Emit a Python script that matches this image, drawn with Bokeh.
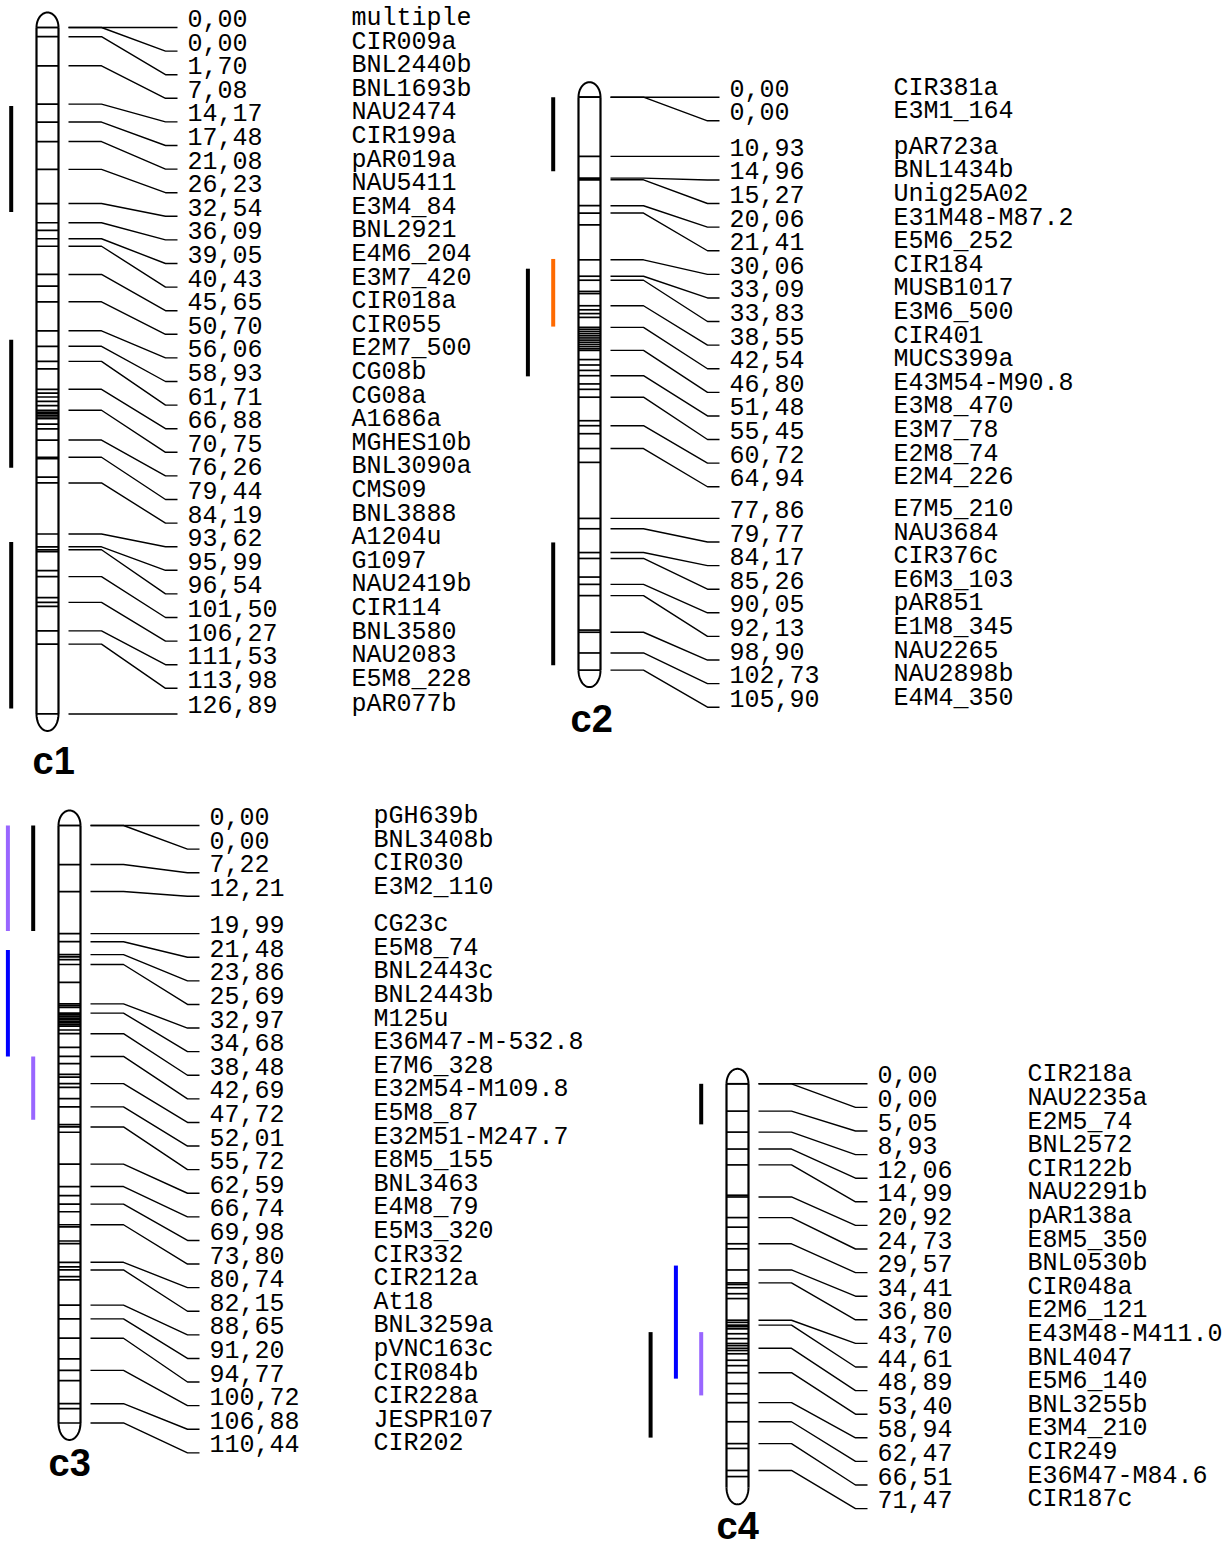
import numpy as np
from bokeh.plotting import figure
from bokeh.models import Range1d
from bokeh.embed import file_html
from bokeh.resources import INLINE
from bokeh.core.properties import value

# ---------------- DATA ----------------
c1_names = ["multiple", "CIR009a", "BNL2440b", "BNL1693b", "NAU2474", "CIR199a", "pAR019a",
            "NAU5411", "E3M4_84", "BNL2921", "E4M6_204", "E3M7_420", "CIR018a", "CIR055",
            "E2M7_500", "CG08b", "CG08a", "A1686a", "MGHES10b", "BNL3090a", "CMS09", "BNL3888",
            "A1204u", "G1097", "NAU2419b", "CIR114", "BNL3580", "NAU2083", "E5M8_228", "pAR077b"]
c1_pos = [0.00, 0.00, 1.70, 7.08, 14.17, 17.48, 21.08, 26.23, 32.54, 36.09, 39.05, 40.43,
          45.65, 50.70, 56.06, 58.93, 61.71, 66.88, 70.75, 76.26, 79.44, 84.19, 93.62, 95.99,
          96.54, 101.50, 106.27, 111.53, 113.98, 126.89]
c1_extra = [37.5, 47.8, 63.1, 67.6, 68.3, 69.1, 69.9, 71.1, 71.4, 71.7, 72.0, 72.3, 73.3,
            74.2, 79.7, 83.1, 96.9, 100.4, 105.4, 107.0]
c1_length = 126.89
c1_qtl_start = [14.5, 57.7, 95.1]
c1_qtl_end = [34.1, 81.4, 125.9]
c1_qtl_color = ["black", "black", "black"]
c1_qtl_lane = [1, 1, 1]

c2_names = ["CIR381a", "E3M1_164", "pAR723a", "BNL1434b", "Unig25A02", "E31M48-M87.2",
            "E5M6_252", "CIR184", "MUSB1017", "E3M6_500", "CIR401", "MUCS399a", "E43M54-M90.8",
            "E3M8_470", "E3M7_78", "E2M8_74", "E2M4_226", "E7M5_210", "NAU3684", "CIR376c",
            "E6M3_103", "pAR851", "E1M8_345", "NAU2265", "NAU2898b", "E4M4_350"]
c2_pos = [0.00, 0.00, 10.93, 14.96, 15.27, 20.06, 21.41, 30.06, 33.09, 33.83, 38.55, 42.54,
          46.80, 51.48, 55.45, 60.72, 64.94, 77.86, 79.77, 84.17, 85.26, 90.05, 92.13, 98.90,
          102.73, 105.90]
c2_extra = [23.6, 35.9, 36.3, 39.3, 40.0, 40.7, 42.9, 43.3, 43.7, 44.1, 44.5, 44.9, 45.3,
            45.7, 46.1, 46.5, 48.5, 49.5, 50.5, 53.0, 54.0, 59.8, 62.2, 67.5, 88.7, 98.5]
c2_length = 105.90
c2_qtl_start = [0.0, 29.9, 31.7, 82.3]
c2_qtl_end = [13.7, 42.4, 51.6, 105.0]
c2_qtl_color = ["black", "#ff6a00", "black", "black"]
c2_qtl_lane = [1, 1, 2, 1]

c3_names = ["pGH639b", "BNL3408b", "CIR030", "E3M2_110", "CG23c", "E5M8_74", "BNL2443c",
            "BNL2443b", "M125u", "E36M47-M-532.8", "E7M6_328", "E32M54-M109.8", "E5M8_87",
            "E32M51-M247.7", "E8M5_155", "BNL3463", "E4M8_79", "E5M3_320", "CIR332", "CIR212a",
            "At18", "BNL3259a", "pVNC163c", "CIR084b", "CIR228a", "JESPR107", "CIR202"]
c3_pos = [0.00, 0.00, 7.22, 12.21, 19.99, 21.48, 23.86, 25.69, 32.97, 34.68, 38.48, 42.69,
          47.72, 52.01, 55.72, 62.59, 66.74, 69.98, 73.80, 80.74, 82.15, 88.65, 91.20, 94.77,
          100.72, 106.88, 110.44]
c3_extra = [24.3, 24.8, 29.0, 33.3, 33.6, 35.0, 35.3, 35.6, 35.9, 36.2, 36.5, 36.8, 37.1,
            37.8, 41.0, 44.0, 46.0, 46.5, 48.4, 50.5, 55.3, 56.7, 68.4, 71.4, 74.2, 76.8,
            77.3, 81.6, 83.4, 84.0, 98.6, 102.6, 107.8]
c3_length = 110.44
c3_qtl_start = [0.0, 0.0, 23.0, 42.7]
c3_qtl_end = [19.5, 19.5, 42.7, 54.4]
c3_qtl_color = ["#9966ff", "black", "#0000ff", "#9966ff"]
c3_qtl_lane = [2, 1, 2, 1]

c4_names = ["CIR218a", "NAU2235a", "E2M5_74", "BNL2572", "CIR122b", "NAU2291b", "pAR138a",
            "E8M5_350", "BNL0530b", "CIR048a", "E2M6_121", "E43M48-M411.0", "BNL4047",
            "E5M6_140", "BNL3255b", "E3M4_210", "CIR249", "E36M47-M84.6", "CIR187c"]
c4_pos = [0.00, 0.00, 5.05, 8.93, 12.06, 14.99, 20.92, 24.73, 29.57, 34.41, 36.80, 43.70,
          44.61, 48.89, 53.40, 58.94, 62.47, 66.51, 71.47]
c4_extra = [20.6, 26.5, 30.5, 37.1, 37.7, 38.8, 39.7, 44.1, 44.9, 45.3, 46.2, 47.1, 48.0,
            48.4, 49.3, 49.9, 51.1, 52.1, 55.4, 57.3, 67.4, 72.6]
c4_length = 74.6
c4_qtl_start = [0.0, 33.6, 45.9, 45.9]
c4_qtl_end = [7.5, 54.5, 57.6, 65.4]
c4_qtl_color = ["black", "#0000ff", "#9966ff", "black"]
c4_qtl_lane = [1, 2, 1, 3]

titles = ["c1", "c2", "c3", "c4"]

# ---------------- LAYOUT (styles) ----------------
SCALE = 5.41      # px per cM
SPACING = 23.6    # minimal label spacing in px
W, H = 1229, 1547

layout = {
    "c1": dict(x0=36, y0=27, name_x=351, tx=32, ty=760),
    "c2": dict(x0=578, y0=96.7, name_x=893, tx=570, ty=718),
    "c3": dict(x0=58, y0=825, name_x=373, tx=48, ty=1462),
    "c4": dict(x0=726, y0=1083.3, name_x=1027, tx=716, ty=1525),
}

chroms = [
    ("c1", c1_names, c1_pos, c1_extra, c1_length, c1_qtl_start, c1_qtl_end, c1_qtl_color, c1_qtl_lane),
    ("c2", c2_names, c2_pos, c2_extra, c2_length, c2_qtl_start, c2_qtl_end, c2_qtl_color, c2_qtl_lane),
    ("c3", c3_names, c3_pos, c3_extra, c3_length, c3_qtl_start, c3_qtl_end, c3_qtl_color, c3_qtl_lane),
    ("c4", c4_names, c4_pos, c4_extra, c4_length, c4_qtl_start, c4_qtl_end, c4_qtl_color, c4_qtl_lane),
]

p = figure(width=W, height=H, x_range=Range1d(0, W), y_range=Range1d(H, 0),
           output_backend="svg", toolbar_location=None, min_border=0,
           x_axis_location=None, y_axis_location=None)
p.grid.visible = False
p.outline_line_color = None
p.background_fill_color = "white"

FONT = value("Liberation Mono")
CW = 22  # chromosome width

for title, names, pos, extra, length, qs, qe, qc, ql in chroms:
    L = layout[title]
    x0, y0 = L["x0"], L["y0"]
    ymap = lambda cm: y0 + np.asarray(cm, dtype=float) * SCALE
    mark_y = ymap(pos)
    yend = float(ymap(length))

    # bands
    bands = np.concatenate([mark_y, ymap(extra)])
    p.segment(x0=[x0] * len(bands), x1=[x0 + CW] * len(bands), y0=bands, y1=bands,
              line_color="black", line_width=1.7)
    # outline sides
    p.segment(x0=[x0, x0 + CW], x1=[x0, x0 + CW], y0=[y0, y0], y1=[yend, yend],
              line_color="black", line_width=2.2)
    # caps
    t = np.linspace(0, np.pi, 40)
    p.line(x0 + CW / 2 + CW / 2 * np.cos(t), y0 - 15 * np.sin(t), line_color="black", line_width=2)
    p.line(x0 + CW / 2 + CW / 2 * np.cos(t), yend + 17 * np.sin(t), line_color="black", line_width=2)

    # label positions (push down to avoid overlap)
    lab_y = []
    for i, my in enumerate(mark_y):
        ly = my if i == 0 else max(my, lab_y[-1] + SPACING)
        lab_y.append(ly)
    lab_y = np.array(lab_y)

    xs = [[x0 + 32, x0 + 65, x0 + 129, x0 + 141] for _ in pos]
    ys = [[m, m, l, l] for m, l in zip(mark_y, lab_y)]
    p.multi_line(xs=xs, ys=ys, line_color="black", line_width=1.4)

    nums = [f"{v:.2f}".replace(".", ",") for v in pos]
    p.text(x=[x0 + 151] * len(pos), y=lab_y - 9, text=nums, text_font=FONT,
           text_font_size="25px", text_baseline="alphabetic", text_align="left", text_color="black")
    p.text(x=[L["name_x"]] * len(pos), y=lab_y - 9, text=names, text_font=FONT,
           text_font_size="25px", text_baseline="alphabetic", text_align="left", text_color="black")

    # QTL bars
    qx = [x0 - 25.3 * lane for lane in ql]
    p.segment(x0=qx, x1=qx, y0=ymap(qs), y1=ymap(qe), line_color=qc, line_width=4)

    # title
    p.text(x=[L["tx"]], y=[L["ty"]], text=[title], text_font=value("Liberation Sans"),
           text_font_style="bold", text_font_size="38px", text_baseline="alphabetic",
           text_color="black")

open("out.html", "w").write(file_html(p, INLINE))
